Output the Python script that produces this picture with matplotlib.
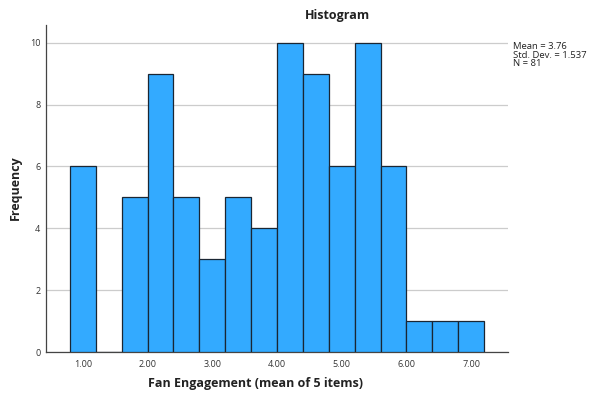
import matplotlib
matplotlib.use("Agg")
import matplotlib.pyplot as plt
import numpy as np

bin_edges = [0.8, 1.2, 1.6, 2.0, 2.4, 2.8, 3.2, 3.6, 4.0, 4.4, 4.8, 5.2, 5.6, 6.0, 6.4, 6.8, 7.2]
counts = [6, 0, 5, 9, 5, 3, 5, 4, 10, 9, 6, 10, 6, 1, 1, 1]
x_ticks = [1, 2, 3, 4, 5, 6, 7]
x_tick_labels = ["1.00", "2.00", "3.00", "4.00", "5.00", "6.00", "7.00"]
y_ticks = [0, 2, 4, 6, 8, 10]
stats_text = "Mean = 3.76\nStd. Dev. = 1.537\nN = 81"

plt.rcParams['font.family'] = ['Open Sans', 'DejaVu Sans']

W, H = 589, 394
fig = plt.figure(figsize=(W/100, H/100), dpi=100)
l, r, t, b = 46, 508, 25, 352
ax = fig.add_axes([l/W, 1 - b/H, (r-l)/W, (b-t)/H])

lefts = np.array(bin_edges[:-1])
widths = np.diff(bin_edges)
ax.bar(lefts, counts, width=widths, align='edge', color='#33aaff',
       edgecolor='#1a2633', linewidth=0.9, zorder=3)

ax.set_xlim(0.43, 7.57)
ax.set_ylim(0, 10.57)
ax.set_xticks(x_ticks)
ax.set_xticklabels(x_tick_labels)
ax.set_yticks(y_ticks)
ax.tick_params(axis='both', length=0, labelsize=6.5, colors='#333333', pad=4)
ax.tick_params(axis='x', pad=6)
ax.grid(axis='y', color='#cccccc', linewidth=0.9, zorder=0)
for s in ['top', 'right']:
    ax.spines[s].set_visible(False)
for s in ['left', 'bottom']:
    ax.spines[s].set_color('#444444')
    ax.spines[s].set_linewidth(0.9)

fig.text(337/W, 1 - 16/H, "Histogram", ha='center', va='center', fontsize=9, fontweight='bold', color='#222222')
fig.text(256/W, 1 - 384/H, "Fan Engagement (mean of 5 items)", ha='center', va='center', fontsize=9, fontweight='bold', color='#222222')
fig.text(15/W, 1 - 188/H, "Frequency", ha='center', va='center', rotation=90, fontsize=9, fontweight='bold', color='#222222')
fig.text(513/W, 1 - 42/H, stats_text, ha='left', va='top', fontsize=6.8, color='#222222', linespacing=0.95)

fig.savefig("out.png", dpi=100)
